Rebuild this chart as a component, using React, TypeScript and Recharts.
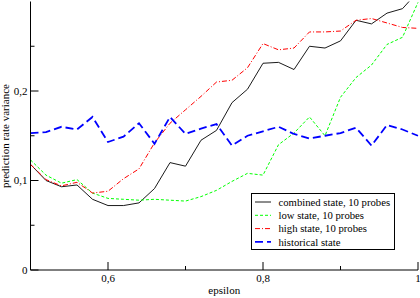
import { Legend, Line, LineChart, XAxis, YAxis } from "recharts";

const epsilon = [
  0.5, 0.52, 0.54, 0.56, 0.58, 0.6, 0.62, 0.64, 0.66, 0.68, 0.7, 0.72, 0.74,
  0.76, 0.78, 0.8, 0.82, 0.84, 0.86, 0.88, 0.9, 0.92, 0.94, 0.96, 0.98, 1.0,
];
const combined = [
  0.118, 0.1, 0.093, 0.095, 0.079, 0.072, 0.072, 0.075, 0.091, 0.12, 0.116,
  0.145, 0.156, 0.187, 0.202, 0.231, 0.232, 0.224, 0.25, 0.248, 0.256, 0.279,
  0.275, 0.287, 0.292, 0.311,
];
const low = [
  0.123, 0.106, 0.097, 0.101, 0.086, 0.08, 0.079, 0.078, 0.079, 0.078, 0.077,
  0.082, 0.089, 0.099, 0.108, 0.106, 0.14, 0.153, 0.171, 0.15, 0.193, 0.215,
  0.229, 0.252, 0.26, 0.299,
];
const high = [
  0.118, 0.101, 0.094, 0.098, 0.086, 0.088, 0.102, 0.113, 0.142, 0.164, 0.179,
  0.194, 0.21, 0.212, 0.226, 0.253, 0.246, 0.248, 0.266, 0.266, 0.267, 0.279,
  0.281, 0.276, 0.271, 0.27,
];
const historical = [
  0.153, 0.154, 0.16, 0.157, 0.171, 0.143, 0.149, 0.164, 0.141, 0.171, 0.152,
  0.158, 0.163, 0.139, 0.15, 0.155, 0.16, 0.152, 0.147, 0.15, 0.153, 0.159,
  0.139, 0.162, 0.157, 0.15,
];

const xTicks = [0.6, 0.7, 0.8, 0.9, 1.0];
const xLabels = [0.6, 0.8, 1.0];
const yTicks = [0, 0.05, 0.1, 0.15, 0.2, 0.25];
const yLabels = [0, 0.1, 0.2];

const series = [
  { key: "combined", name: "combined state, 10 probes", color: "#000000", dash: undefined, width: 0.9 },
  { key: "low", name: "low state, 10 probes", color: "#00ff00", dash: "3 2", width: 1 },
  { key: "high", name: "high state, 10 probes", color: "#ff0000", dash: "5 2 1 2", width: 1 },
  { key: "historical", name: "historical state", color: "#0000ff", dash: "8 4", width: 1.8 },
];

const data = epsilon.map((eps, i) => ({
  eps,
  combined: combined[i],
  low: low[i],
  high: high[i],
  historical: historical[i],
}));

const FONT = "Liberation Serif";
const txt = { fontFamily: FONT };
const fmt = (v: number) => String(Number(v.toFixed(2))).replace(".", ",");
const isLabel = (list: number[], v: number) => list.some((t) => Math.abs(t - v) < 1e-9);

// ticks point into the plot, labels only on the major ones
const BottomTick = ({ x, y, payload }: any) => {
  const major = isLabel(xLabels, payload.value);
  return (
    <g>
      <line x1={x} x2={x} y1={y} y2={y - (major ? 8 : 4)} stroke="#000" />
      {major && (
        <text x={x} y={y + 12} textAnchor="middle" fontSize={11} style={txt} fill="#000">
          {fmt(payload.value)}
        </text>
      )}
    </g>
  );
};
const TopTick = ({ x, y, payload }: any) => {
  const major = isLabel(xLabels, payload.value);
  return <line x1={x} x2={x} y1={y} y2={y + (major ? 8 : 4)} stroke="#000" />;
};
const LeftTick = ({ x, y, payload }: any) => {
  const major = isLabel(yLabels, payload.value);
  return (
    <g>
      <line x1={x} x2={x + (major ? 8 : 4)} y1={y} y2={y} stroke="#000" />
      {major && (
        <text x={x - 3} y={y + 3.8} textAnchor="end" fontSize={11} style={txt} fill="#000">
          {fmt(payload.value)}
        </text>
      )}
    </g>
  );
};
const RightTick = ({ x, y, payload }: any) => {
  const major = isLabel(yLabels, payload.value);
  return <line x1={x} x2={x - (major ? 8 : 4)} y1={y} y2={y} stroke="#000" />;
};

const LegendBox = () => (
  <svg width={145} height={58}>
    <rect x={0.5} y={0.5} width={143} height={56} fill="#fff" stroke="#000" />
    {series.map((s, i) => {
      const cy = 9 + i * 13.3;
      return (
        <g key={s.key}>
          <line x1={4} x2={20} y1={cy} y2={cy} stroke={s.color} strokeDasharray={s.dash} strokeWidth={s.width} />
          <text x={27.5} y={cy + 3.8} fontSize={10.7} style={txt} fill="#000">
            {s.name}
          </text>
        </g>
      );
    })}
  </svg>
);

export default function App() {
  return (
    <div style={{ position: "absolute", left: 0, top: 0, fontFamily: FONT }}>
      <LineChart
        width={420}
        height={298}
        data={data}
        margin={{ top: 1.5, right: 2, left: 0, bottom: 0 }}
      >
        <XAxis
          dataKey="eps"
          type="number"
          domain={[0.5, 1]}
          ticks={xTicks}
          interval={0}
          height={28}
          tickSize={0}
          tickMargin={0}
          tick={<BottomTick />}
          axisLine={{ stroke: "#000" }}
          label={{
            value: "epsilon",
            position: "insideBottom",
            offset: 4,
            fontSize: 11,
            style: txt,
            fill: "#000",
          }}
        />
        <XAxis
          xAxisId="top"
          orientation="top"
          dataKey="eps"
          type="number"
          domain={[0.5, 1]}
          ticks={xTicks}
          interval={0}
          height={0}
          tickSize={0}
          tickMargin={0}
          tick={<TopTick />}
          axisLine={{ stroke: "#000" }}
        />
        <YAxis
          type="number"
          domain={[0, 0.3]}
          allowDataOverflow
          ticks={yTicks}
          interval={0}
          width={30.5}
          tickSize={0}
          tickMargin={0}
          tick={<LeftTick />}
          axisLine={{ stroke: "#000" }}
          label={{
            content: () => (
              <text
                transform="translate(9,136) rotate(-90)"
                textAnchor="middle"
                fontSize={11}
                style={txt}
                fill="#000"
              >
                prediction rate variance
              </text>
            ),
          }}
        />
        <YAxis
          yAxisId="right"
          orientation="right"
          type="number"
          domain={[0, 0.3]}
          ticks={yTicks}
          interval={0}
          width={0}
          tickSize={0}
          tickMargin={0}
          tick={<RightTick />}
          axisLine={{ stroke: "#000" }}
        />
        {series.map((s) => (
          <Line
            key={s.key}
            dataKey={s.key}
            name={s.name}
            type="linear"
            stroke={s.color}
            strokeWidth={s.width}
            strokeDasharray={s.dash}
            dot={false}
            activeDot={false}
            isAnimationActive={false}
          />
        ))}
        <Legend
          layout="horizontal"
          verticalAlign="middle"
          align="center"
          content={<LegendBox />}
          wrapperStyle={{ left: 250.5, top: 193, width: 145, height: 58 }}
        />
      </LineChart>
    </div>
  );
}
